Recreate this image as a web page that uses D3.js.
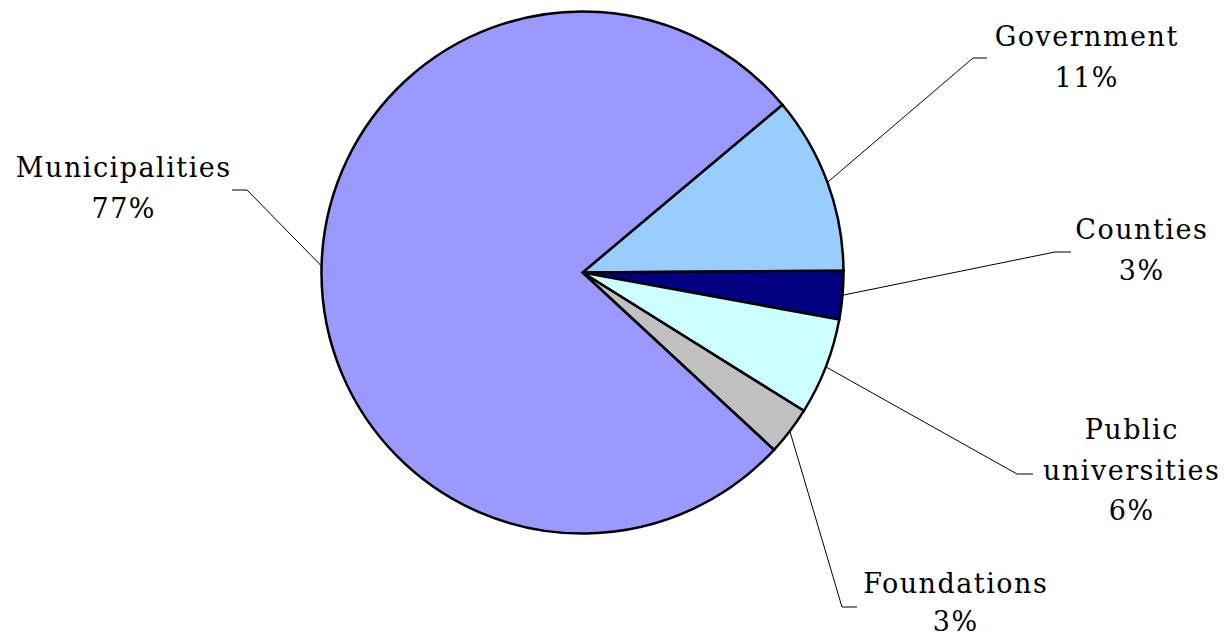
<!DOCTYPE html>
<html>
<head>
<meta charset="utf-8">
<script src="https://cdn.jsdelivr.net/npm/d3@7/dist/d3.min.js"></script>
<style>
  html, body { margin: 0; padding: 0; background: #fff; }
  svg { display: block; }
  .lbl { font-family: "DejaVu Serif", serif; font-size: 27px; letter-spacing: 1.5px; fill: #000; }
</style>
</head>
<body>
<svg id="chart" width="1227" height="638"></svg>
<script>
// Funding shares by source, in drawing order (clockwise)
const categories = ["Government", "Counties", "Public universities", "Foundations", "Municipalities"];
const shares = [11, 3, 6, 3, 77];
const shareLabels = ["11%", "3%", "6%", "3%", "77%"];
const colors = ["#99CCFF", "#000080", "#CCFFFF", "#C0C0C0", "#9999FF"];

// Label layout: centre x, baseline of first line, line step, and leader-line elbow
const labelLayout = [
  { x: 1086, y: 46,  step: 40.5, lines: ["Government"],             elbow: [973, 58],  end: [987, 58] },
  { x: 1141, y: 239, step: 40.5, lines: ["Counties"],               elbow: [1055, 252], end: [1071, 252] },
  { x: 1131, y: 439, step: 40.5, lines: ["Public", "universities"], elbow: [1017, 474], end: [1033, 474] },
  { x: 955,  y: 593, step: 38,   lines: ["Foundations"],            elbow: [842, 607], end: [857, 607] },
  { x: 123,  y: 177, step: 40.5, lines: ["Municipalities"],         elbow: [247, 190], end: [232, 190] }
];

const cx = 582.5, cy = 272.5, r = 261;
const start = 50 * Math.PI / 180;

const svg = d3.select("#chart");
const g = svg.append("g").attr("transform", `translate(${cx},${cy})`);

const pie = d3.pie().sort(null).value(d => d).startAngle(start).endAngle(start + 2 * Math.PI);
const arcs = pie(shares);
const arc = d3.arc().innerRadius(0).outerRadius(r);

// Slices
g.selectAll("path.slice")
  .data(arcs)
  .join("path")
  .attr("class", "slice")
  .attr("d", arc)
  .attr("fill", (d, i) => colors[i])
  .attr("stroke", "#000")
  .attr("stroke-width", 2.5)
  .attr("stroke-linejoin", "miter");

// Leader lines from each slice's rim midpoint
const line = d3.line();
arcs.forEach((d, i) => {
  const mid = (d.startAngle + d.endAngle) / 2;
  const p0 = [cx + r * Math.sin(mid), cy - r * Math.cos(mid)];
  const L = labelLayout[i];
  svg.append("path")
    .attr("d", line([p0, L.elbow, L.end]))
    .attr("fill", "none")
    .attr("stroke", "#000")
    .attr("stroke-width", 1);
});

// Category labels with percentages
labelLayout.forEach((L, i) => {
  const t = svg.append("text")
    .attr("class", "lbl")
    .attr("text-anchor", "middle");
  const rows = L.lines.concat([shareLabels[i]]);
  rows.forEach((s, k) => {
    t.append("tspan")
      .attr("x", L.x + 0.75)
      .attr("y", L.y + k * L.step)
      .text(s);
  });
});
</script>
</body>
</html>
